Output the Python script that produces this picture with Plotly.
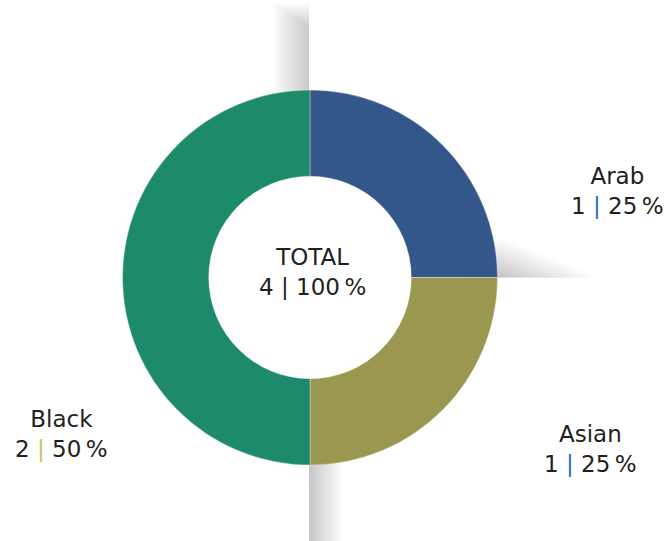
import plotly.graph_objects as go

W, H = 671, 541

# Data
categories = ["Arab", "Asian", "Black"]
counts = [1, 1, 2]
slice_colors = ["#33578a", "#9a974f", "#1d8a6b"]
sep_colors = ["#2b6fb3", "#2b6fb3", "#c8c65a"]
label_pos = [(617, 191), (590, 449), (61, 434)]  # pixel centers

total = sum(counts)

cx, cy, R = 310, 277.5, 187.5

def px(x):
    return x / W

def py(y):
    return 1 - y / H

fig = go.Figure()
fig.add_trace(go.Pie(
    labels=categories,
    values=counts,
    sort=False,
    direction="clockwise",
    rotation=0,
    hole=0.54,
    marker=dict(colors=slice_colors, line=dict(color="rgba(255,255,255,0.6)", width=0.6)),
    textinfo="none",
    hoverinfo="label+value+percent",
    showlegend=False,
    domain=dict(x=[px(cx - R), px(cx + R)], y=[py(cy + R), py(cy - R)]),
))

font = dict(family="DejaVu Sans, Verdana, sans-serif", size=23, color="#231f20")

annotations = []
for cat, n, sc, (lx, ly) in zip(categories, counts, sep_colors, label_pos):
    pct = round(100 * n / total)
    annotations.append(dict(
        x=px(lx), y=py(ly), xref="paper", yref="paper",
        xanchor="center", yanchor="middle", showarrow=False,
        text=f"{cat}<br>{n} <span style='color:{sc}'>|</span> {pct}\u2009%",
        font=font, align="center",
    ))
annotations.append(dict(
    x=px(312), y=py(272), xref="paper", yref="paper",
    xanchor="center", yanchor="middle", showarrow=False,
    text=f"TOTAL<br>{total} | 100\u2009%", font=font, align="center",
))

# Decorative soft shadows (layered translucent rectangles, hidden under the ring)
shapes = []
N = 18
op = 0.017
for i in range(1, N + 1):
    f = i / N
    # top shadow (left of vertical axis, above donut)
    shapes.append(dict(type="rect", xref="paper", yref="paper", layer="below",
                       x0=px(cx - 37 * f), x1=px(cx - 1), y0=py(140), y1=py(3 + 25 * (1 - f)),
                       line=dict(width=0), fillcolor=f"rgba(50,50,50,{op})"))
    # bottom shadow (right of vertical axis, below donut)
    shapes.append(dict(type="rect", xref="paper", yref="paper", layer="below",
                       x0=px(cx - 1), x1=px(cx + 32 * f), y0=py(H), y1=py(420),
                       line=dict(width=0), fillcolor=f"rgba(50,50,50,{op})"))
    # right shadow (above horizontal axis, right of donut)
    shapes.append(dict(type="rect", xref="paper", yref="paper", layer="below",
                       x0=px(460), x1=px(cx + R + 95 * (1 - f) + 8), y0=py(cy), y1=py(cy - 38 * f),
                       line=dict(width=0), fillcolor=f"rgba(50,50,50,{op})"))

fig.update_layout(
    width=W, height=H,
    margin=dict(l=0, r=0, t=0, b=0),
    paper_bgcolor="white", plot_bgcolor="white",
    annotations=annotations,
    shapes=shapes,
    showlegend=False,
)

fig.write_html("out.html")
